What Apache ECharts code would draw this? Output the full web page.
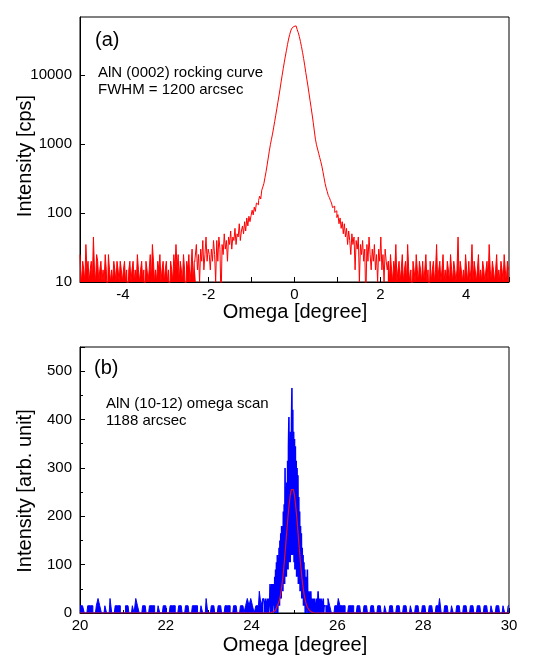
<!DOCTYPE html>
<html>
<head>
<meta charset="utf-8">
<script src="https://cdn.jsdelivr.net/npm/echarts@6/dist/echarts.min.js"></script>
<style>html,body{margin:0;padding:0;background:#fff}#c{width:536px;height:663px}</style>
</head>
<body>
<div id="c"></div>
<script>
// ---------- Panel (a): AlN (0002) rocking curve, log intensity ----------
const omegaA_start = -5.0;
const omegaA_step = 0.025;
const intensityA_baseLeft = [
  25,15,10,20,15,10,35,15,20,10,
  15,20,10,45,15,10,25,20,10,15,
  20,10,15,10,25,15,5,25,15,10,
  15,10,20,15,10,20,15,10,20,15,
  10,15,20,10,15,5,15,20,10,15,
  20,10,15,10,25,15,10,15,20,10,
  15,5,20,15,10,15,25,10,35,20,
  10,15,10,20,15,25,10,15,20,10,
  15,20,10,15,5,20,15,10,25,15,
  35,15,25,10,20,15,10,25,15,5,
  20,15,25,10,15,30,10,20
];
const intensityA_tailLeft = [
  20,35,15,25,10,30,20,40,15,25,
  45,20,30,25,15,30,20,40,25,10,
  40,20,45,30,5,35,25,50,30,40,
  20,45,35,55,30,45,40,60,35,50,
  45,70,40,55,65,50,75,55,85,65,
  90,75
];
const intensityA_peak = [
  92,110,94,122,106,140,132,152,176,160,
  215,240,270,330,400,500,630,790,980,1180,
  1400,1720,2120,2620,3250,4050,5000,6300,8000,10000,
  12500,15500,19000,23000,28000,33500,39000,44000,48000,51000,
  52500,52000,49500,46000,41500,36500,31000,26000,21500,17500,
  14000,11000,8800,7000,5500,4300,3400,2650,2050,1550,
  1180,980,850,740,640,560,480,400,330,270,
  232,205,180,168,152,140,120,126,102,108,
  86
];
const intensityA_tailRight = [
  95,70,85,60,75,50,70,45,60,35,
  55,40,25,50,35,45,15,40,30,45,
  10,35,25,40,20,30,5,35,20,45,
  25,15,30,20,35,15,25,10,30,20,
  45,15,25,10,30,20,15
];
const intensityA_baseRight = [
  20,10,25,15,10,20,15,35,10,15,
  20,10,15,25,10,15,20,10,35,15,
  10,15,5,20,15,10,25,15,10,20,
  15,10,20,10,15,25,10,15,5,20,
  10,15,20,10,15,35,10,15,20,10,
  15,25,10,15,10,20,15,10,25,15,
  10,20,15,10,15,45,10,20,15,10,
  15,10,25,15,10,20,10,15,35,10,
  20,15,10,15,25,10,15,10,20,15,
  10,15,20,10,35,15,10,20,15,10,
  15,25,10,15,10,20,15,10,25,15,
  10,20,15
];
const axisA_x = {min: -5, max: 5};
const axisA_y = {min: 10, max: 70000};

// ---------- Panel (b): AlN (10-12) omega scan, linear intensity ----------
const omegaB_leftStart = 20.0, omegaB_leftStep = 0.04;
const intensityB_left = [
  15,15,15,0,0,15,15,15,0,0,
  15,30,15,0,0,15,0,0,30,0,
  0,15,15,15,0,0,0,15,15,0,
  0,15,0,30,15,0,0,15,15,0,
  0,15,15,15,0,0,15,0,0,15,
  15,0,0,15,15,15,0,0,15,15,
  0,0,15,15,0,0,15,15,15,0,
  0,15,0,0,30,0,0,15,15,0,
  0,15,15,0,0,15,15,15,0,0,
  15,15,0,0,15,15,0,15,30,15,
  30,15,0,15,15,45,15,30
];
const omegaB_peakStart = 24.30, omegaB_peakStep = 0.01;
const intensityB_peak = [
  15,0,15,30,15,0,15,15,30,0,
  15,30,15,60,0,30,15,60,0,30,
  60,15,45,0,75,15,90,0,105,15,
  120,0,105,15,135,15,150,30,165,30,
  180,45,165,45,210,60,225,60,300,75,
  240,75,270,90,315,90,345,405,105,360,
  105,375,120,390,465,120,420,120,375,105,
  360,90,345,90,315,75,300,75,285,60,
  240,60,210,45,180,45,165,30,135,30,
  120,15,105,15,90,0,75,15,60,0,
  90,15,45,0,45,15,30,0,45,15,
  30,0,15,30,15,0,30,15,15,0,
  15,30,15,0,15,45,15,0,30,15,
  15,0,30,15,0,15,15,30,0,15,
  15
];
const omegaB_rightStart = 25.72, omegaB_rightStep = 0.04;
const intensityB_right = [
  15,15,30,15,0,0,15,15,30,15,
  15,15,0,0,15,15,15,0,0,15,
  15,0,0,15,15,0,0,15,15,0,
  0,15,15,0,0,15,0,0,15,15,
  0,0,15,15,0,0,15,15,0,0,
  15,0,0,15,15,0,0,15,15,0,
  0,15,15,0,0,15,15,30,0,0,
  15,15,0,0,15,0,0,15,15,0,
  0,15,15,0,0,15,15,0,0,15,
  15,0,0,15,15,0,0,15,0,0,
  15,15,0,0,15,0,0,15
];
// fitted peak (red curve)
const fitB_start = 24.40, fitB_step = 0.025;
const fitB_values = [
  0,0,0.5,1,2,3,5,10,15,20,
  27,38,53,71,93,119,146,174,201,224,
  243,255,259,255,243,224,201,174,146,119,
  93,71,53,38,27,18,12,8,5,3,
  2,1,0.5,0,0
];
const fitB_rangeStart = 20, fitB_rangeEnd = 30, fitB_baseline = 0;
const axisB_x = {min: 20, max: 30, interval: 2};
const axisB_y = {min: 0, max: 550, interval: 100};

// ---------- build series data ----------
function seq(start, step, values) {
  return values.map((v, i) => [+(start + i * step).toFixed(4), v]);
}
const dataA = seq(omegaA_start, omegaA_step,
  [].concat(intensityA_baseLeft, intensityA_tailLeft, intensityA_peak, intensityA_tailRight, intensityA_baseRight));
const nAL = intensityA_baseLeft.length;
const nAR = intensityA_baseRight.length;
const dataA_baseLeft = dataA.slice(0, nAL + 1);
const dataA_middle = dataA.slice(nAL - 1, dataA.length - nAR + 1);
const dataA_baseRight = dataA.slice(dataA.length - nAR - 1);

const dataB_left = seq(omegaB_leftStart, omegaB_leftStep, intensityB_left);
const dataB_peak = seq(omegaB_peakStart, omegaB_peakStep, intensityB_peak);
const dataB_right = seq(omegaB_rightStart, omegaB_rightStep, intensityB_right);
const dataB_peakJoined = [dataB_left[dataB_left.length - 1]].concat(dataB_peak, [dataB_right[0]]);
const fitB = [[fitB_rangeStart, fitB_baseline]].concat(
  seq(fitB_start, fitB_step, fitB_values), [[fitB_rangeEnd, fitB_baseline]]);

const FONT = 'Arial, "Liberation Sans", sans-serif';
const black = '#000';
const RED = '#ff0000', BLUE = '#0000ff';
const tickLabel = {color: black, fontSize: 15, fontFamily: FONT};

function noisy(name, xi, yi, data, color, filled) {
  const s = {
    name: name, type: 'line', xAxisIndex: xi, yAxisIndex: yi, data: data,
    step: 'middle', showSymbol: false, symbol: 'none', clip: true,
    lineStyle: {color: color, width: 1}, itemStyle: {color: color}
  };
  if (filled) s.areaStyle = {color: color, opacity: 1, origin: 'start'};
  return s;
}

const chart = echarts.init(document.getElementById('c'), null, {renderer: 'canvas'});
chart.setOption({
  animation: false,
  backgroundColor: '#fff',
  grid: [
    {left: 80, top: 17, width: 429, height: 265, show: true, borderColor: black, borderWidth: 1},
    {left: 80, top: 347, width: 429, height: 266, show: true, borderColor: black, borderWidth: 1}
  ],
  xAxis: [
    {
      gridIndex: 0, type: 'value', min: axisA_x.min, max: axisA_x.max, interval: 1,
      axisLine: {onZero: false, lineStyle: {color: black}},
      axisTick: {inside: true, length: 5, lineStyle: {color: black}},
      axisLabel: Object.assign({margin: 5, formatter: v => (Math.round(v) % 2 === 0 ? String(Math.round(v)) : '')}, tickLabel),
      splitLine: {show: false}
    },
    {
      gridIndex: 1, type: 'value', min: axisB_x.min, max: axisB_x.max, interval: axisB_x.interval,
      axisLine: {onZero: false, lineStyle: {color: black}},
      axisTick: {inside: true, length: 5, lineStyle: {color: black}},
      minorTick: {show: true, splitNumber: 2, length: 3, lineStyle: {color: black}},
      axisLabel: Object.assign({margin: 5, formatter: v => String(Math.round(v))}, tickLabel),
      splitLine: {show: false}
    }
  ],
  yAxis: [
    {
      gridIndex: 0, type: 'log', logBase: 10, min: axisA_y.min, max: axisA_y.max,
      axisLine: {onZero: false, lineStyle: {color: black}},
      axisTick: {inside: true, length: 5, lineStyle: {color: black}},
      axisLabel: Object.assign({margin: 8, showMaxLabel: false, formatter: v => String(Math.round(v))}, tickLabel),
      splitLine: {show: false}
    },
    {
      gridIndex: 1, type: 'value', min: axisB_y.min, max: axisB_y.max, interval: axisB_y.interval,
      axisLine: {onZero: false, lineStyle: {color: black}},
      axisTick: {inside: true, length: 5, lineStyle: {color: black}},
      minorTick: {show: true, splitNumber: 2, length: 3, lineStyle: {color: black}},
      axisLabel: Object.assign({margin: 8, showMaxLabel: false, formatter: v => String(Math.round(v))}, tickLabel),
      splitLine: {show: false}
    }
  ],
  series: [
    noisy('AlN (0002) base L', 0, 0, dataA_baseLeft, RED, true),
    noisy('AlN (0002)', 0, 0, dataA_middle, RED, false),
    noisy('AlN (0002) base R', 0, 0, dataA_baseRight, RED, true),
    noisy('AlN (10-12) base L', 1, 1, dataB_left, BLUE, true),
    Object.assign(noisy('AlN (10-12)', 1, 1, dataB_peakJoined, BLUE, false),
      {step: false, lineStyle: {color: BLUE, width: 1.6}}),
    noisy('AlN (10-12) base R', 1, 1, dataB_right, BLUE, true),
    {
      name: 'fit', type: 'line', xAxisIndex: 1, yAxisIndex: 1, data: fitB, z: 5,
      showSymbol: false, symbol: 'none', clip: true, smooth: false,
      lineStyle: {color: '#e0102c', width: 1.2}, itemStyle: {color: '#e0102c'}
    }
  ],
  graphic: [
    {type: 'text', x: 95, y: 40, style: {text: '(a)', font: '20px ' + FONT, fill: black, textAlign: 'left', textVerticalAlign: 'middle', align: 'left', verticalAlign: 'middle'}},
    {type: 'text', x: 98, y: 73, style: {text: 'AlN (0002) rocking curve', font: '15px ' + FONT, fill: black, textAlign: 'left', textVerticalAlign: 'middle', align: 'left', verticalAlign: 'middle'}},
    {type: 'text', x: 98, y: 90, style: {text: 'FWHM = 1200 arcsec', font: '15px ' + FONT, fill: black, textAlign: 'left', textVerticalAlign: 'middle', align: 'left', verticalAlign: 'middle'}},
    {type: 'text', x: 295, y: 312, style: {text: 'Omega [degree]', font: '20px ' + FONT, fill: black, textAlign: 'center', textVerticalAlign: 'middle', align: 'center', verticalAlign: 'middle'}},
    {type: 'text', x: 25, y: 156, rotation: Math.PI / 2, style: {text: 'Intensity [cps]', font: '20px ' + FONT, fill: black, textAlign: 'center', textVerticalAlign: 'middle', align: 'center', verticalAlign: 'middle'}},
    {type: 'text', x: 94, y: 368, style: {text: '(b)', font: '20px ' + FONT, fill: black, textAlign: 'left', textVerticalAlign: 'middle', align: 'left', verticalAlign: 'middle'}},
    {type: 'text', x: 106, y: 404, style: {text: 'AlN (10-12) omega scan', font: '15px ' + FONT, fill: black, textAlign: 'left', textVerticalAlign: 'middle', align: 'left', verticalAlign: 'middle'}},
    {type: 'text', x: 106, y: 421, style: {text: '1188 arcsec', font: '15px ' + FONT, fill: black, textAlign: 'left', textVerticalAlign: 'middle', align: 'left', verticalAlign: 'middle'}},
    {type: 'text', x: 295, y: 645, style: {text: 'Omega [degree]', font: '20px ' + FONT, fill: black, textAlign: 'center', textVerticalAlign: 'middle', align: 'center', verticalAlign: 'middle'}},
    {type: 'text', x: 25, y: 491, rotation: Math.PI / 2, style: {text: 'Intensity [arb. unit]', font: '20px ' + FONT, fill: black, textAlign: 'center', textVerticalAlign: 'middle', align: 'center', verticalAlign: 'middle'}}
  ]
});
</script>
</body>
</html>
